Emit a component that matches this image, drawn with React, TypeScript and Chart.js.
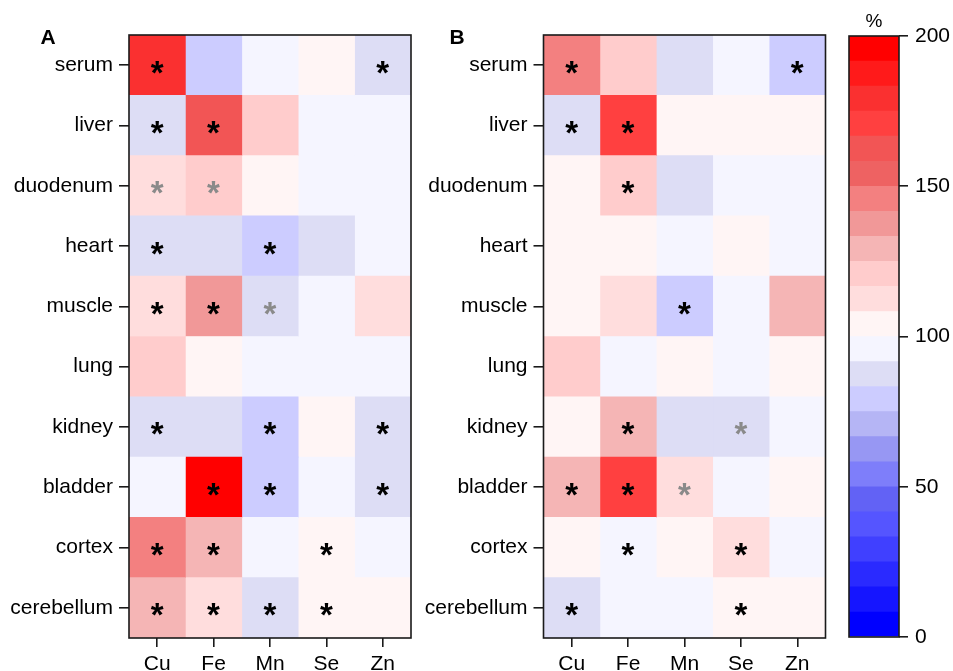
import React, { useEffect, useRef } from 'react';
import { Chart, registerables } from 'chart.js';

Chart.register(...registerables);

const TISSUES = ['serum', 'liver', 'duodenum', 'heart', 'muscle', 'lung', 'kidney', 'bladder', 'cortex', 'cerebellum'];
const ELEMENTS = ['Cu', 'Fe', 'Mn', 'Se', 'Zn'];

// Panel A: % of control, one array per element, in tissue order
const A_CU = [180, 86, 112, 87, 113, 120, 86, 96, 146, 128];
const A_FE = [78, 160, 120, 87, 138, 104, 87, 196, 129, 112];
const A_MN = [96, 121, 104, 79, 88, 97, 77, 78, 96, 87];
const A_SE = [103, 97, 97, 88, 96, 97, 103, 96, 104, 104];
const A_ZN = [86, 96, 96, 96, 113, 97, 87, 86, 96, 103];

// Panel B
const B_CU = [146, 87, 103, 104, 103, 120, 104, 128, 103, 86];
const B_FE = [121, 170, 121, 103, 112, 97, 129, 169, 96, 97];
const B_MN = [87, 104, 87, 97, 78, 103, 88, 113, 104, 96];
const B_SE = [96, 104, 96, 103, 96, 96, 87, 96, 113, 104];
const B_ZN = [78, 103, 96, 96, 128, 103, 96, 104, 96, 103];

// significance marks: 0 none, 1 black asterisk, 2 grey asterisk
const SIG_A_CU = [1, 1, 2, 1, 1, 0, 1, 0, 1, 1];
const SIG_A_FE = [0, 1, 2, 0, 1, 0, 0, 1, 1, 1];
const SIG_A_MN = [0, 0, 0, 1, 2, 0, 1, 1, 0, 1];
const SIG_A_SE = [0, 0, 0, 0, 0, 0, 0, 0, 1, 1];
const SIG_A_ZN = [1, 0, 0, 0, 0, 0, 1, 1, 0, 0];

const SIG_B_CU = [1, 1, 0, 0, 0, 0, 0, 1, 0, 1];
const SIG_B_FE = [0, 1, 1, 0, 0, 0, 1, 1, 1, 0];
const SIG_B_MN = [0, 0, 0, 0, 1, 0, 0, 2, 0, 0];
const SIG_B_SE = [0, 0, 0, 0, 0, 0, 2, 0, 1, 1];
const SIG_B_ZN = [1, 0, 0, 0, 0, 0, 0, 0, 0, 0];

// colour levels of the scale, from 0 up to 200 %
const COLOR_LEVELS = [
  '#0000FF', '#1515FF', '#2A2AFF', '#4040FF', '#5555FF', '#6262F5',
  '#7E7EFA', '#9797F3', '#B5B5F5', '#CCCCFF', '#DDDDF5', '#F5F5FF',
  '#FFF5F5', '#FFDDDD', '#FFCCCC', '#F5B5B5', '#F19898', '#F38080',
  '#EE6262', '#F25555', '#FF4040', '#FA3030', '#FF1A1A', '#FF0000',
];
const SCALE_MIN = 0;
const SCALE_MAX = 200;
const SCALE_STEP = 50;
const SCALE_TITLE = '%';

const FONT = '"Liberation Sans", Arial, Helvetica, sans-serif';
Chart.defaults.font.family = FONT;

const levelWidth = (SCALE_MAX - SCALE_MIN) / COLOR_LEVELS.length;
function colorFor(v: number): string {
  const i = Math.max(0, Math.min(COLOR_LEVELS.length - 1, Math.floor((v - SCALE_MIN) / levelWidth)));
  return COLOR_LEVELS[i];
}

const framePlugin = {
  id: 'frame',
  afterDatasetsDraw(chart: any) {
    const { ctx, chartArea: a } = chart;
    ctx.save();
    ctx.strokeStyle = '#1a1a1a';
    ctx.lineWidth = 1.6;
    ctx.strokeRect(a.left, a.top, a.right - a.left, a.bottom - a.top);
    ctx.restore();
  },
};

function makeLetterPlugin(letter: string, x: number, y: number) {
  return {
    id: 'letter',
    afterDraw(chart: any) {
      const ctx = chart.ctx;
      ctx.save();
      ctx.font = `bold 21px ${FONT}`;
      ctx.fillStyle = '#000';
      ctx.textAlign = 'center';
      ctx.textBaseline = 'middle';
      ctx.fillText(letter, x, y);
      ctx.restore();
    },
  };
}

function makeStarPlugin(sig: number[][]) {
  return {
    id: 'stars',
    afterDatasetsDraw(chart: any) {
      const ctx = chart.ctx;
      const xs = chart.scales.x;
      const ys = chart.scales.y;
      ctx.save();
      ctx.font = `bold 33px ${FONT}`;
      ctx.textAlign = 'left';
      ctx.textBaseline = 'alphabetic';
      const m = ctx.measureText('*');
      const asc = m.actualBoundingBoxAscent;
      const desc = m.actualBoundingBoxDescent;
      const bl = m.actualBoundingBoxLeft;
      const br = m.actualBoundingBoxRight;
      sig.forEach((col, c) => {
        col.forEach((s, r) => {
          if (!s) return;
          const cx = xs.getPixelForValue(c);
          const cy = ys.getPixelForValue(r) + 2;
          ctx.fillStyle = s === 1 ? '#000000' : '#8a8a8a';
          ctx.fillText('*', cx - (br - bl) / 2, cy + (asc - desc) / 2);
        });
      });
      ctx.restore();
    },
  };
}

function heatConfig(values: number[][], sig: number[][], plotLeft: number, padRight: number, letter: string, lx: number, ly: number) {
  const datasets = values.map((col, c) => ({
    label: ELEMENTS[c],
    data: col.map(() => [c - 0.5, c + 0.5]),
    backgroundColor: col.map(colorFor),
    borderWidth: 0,
    grouped: false,
    barPercentage: 1,
    categoryPercentage: 1,
  }));
  return {
    type: 'bar' as const,
    data: { labels: TISSUES, datasets },
    options: {
      indexAxis: 'y' as const,
      animation: false,
      responsive: false,
      devicePixelRatio: 1,
      events: [],
      layout: { padding: { left: 0, top: 35, right: padRight, bottom: 0 } },
      plugins: { legend: { display: false }, tooltip: { enabled: false } },
      scales: {
        x: {
          type: 'linear',
          position: 'bottom',
          min: -0.5,
          max: ELEMENTS.length - 0.5,
          afterBuildTicks: (s: any) => {
            s.ticks = ELEMENTS.map((_, i) => ({ value: i }));
          },
          afterFit: (s: any) => {
            s.height = 33;
          },
          ticks: {
            callback: (v: any) => ELEMENTS[Math.round(v)],
            autoSkip: false,
            maxRotation: 0,
            padding: 5,
            color: '#000',
            font: { size: 21 },
          },
          grid: { drawOnChartArea: false, drawTicks: true, tickLength: 9, color: '#1a1a1a', lineWidth: 1.6 },
          border: { display: false },
        },
        y: {
          type: 'category',
          position: 'left',
          offset: true,
          afterFit: (s: any) => {
            s.width = plotLeft;
          },
          ticks: { padding: 6, color: '#000', font: { size: 21 }, autoSkip: false },
          grid: { offset: false, drawOnChartArea: false, drawTicks: true, tickLength: 10, color: '#1a1a1a', lineWidth: 1.6 },
          border: { display: false },
        },
      },
    },
    plugins: [framePlugin, makeStarPlugin(sig), makeLetterPlugin(letter, lx, ly)],
  };
}

function colorbarConfig() {
  const datasets = COLOR_LEVELS.map((color, i) => ({
    label: String(i),
    data: [[SCALE_MIN + i * levelWidth, SCALE_MIN + (i + 1) * levelWidth]],
    backgroundColor: color,
    borderWidth: 0,
    grouped: false,
    barPercentage: 1,
    categoryPercentage: 1,
  }));
  const titlePlugin = {
    id: 'cbtitle',
    afterDraw(chart: any) {
      const { ctx, chartArea: a } = chart;
      ctx.save();
      ctx.font = `19px ${FONT}`;
      ctx.fillStyle = '#000';
      ctx.textAlign = 'center';
      ctx.textBaseline = 'middle';
      ctx.fillText(SCALE_TITLE, (a.left + a.right) / 2, 22);
      ctx.restore();
    },
  };
  return {
    type: 'bar' as const,
    data: { labels: [''], datasets },
    options: {
      animation: false,
      responsive: false,
      devicePixelRatio: 1,
      events: [],
      layout: { padding: { left: 9, top: 36, right: 0, bottom: 34 } },
      plugins: { legend: { display: false }, tooltip: { enabled: false } },
      scales: {
        x: { type: 'category', display: false, offset: true },
        y: {
          type: 'linear',
          position: 'right',
          min: SCALE_MIN,
          max: SCALE_MAX,
          afterFit: (s: any) => {
            s.width = 54;
          },
          ticks: { stepSize: SCALE_STEP, padding: 7, color: '#000', font: { size: 21 } },
          grid: { drawOnChartArea: false, drawTicks: true, tickLength: 9, color: '#1a1a1a', lineWidth: 1.6 },
          border: { display: false },
        },
      },
    },
    plugins: [framePlugin, titlePlugin],
  };
}

export default function App() {
  const aRef = useRef<HTMLCanvasElement>(null);
  const bRef = useRef<HTMLCanvasElement>(null);
  const cRef = useRef<HTMLCanvasElement>(null);

  useEffect(() => {
    const charts: Chart[] = [];
    charts.push(
      new Chart(
        aRef.current as HTMLCanvasElement,
        heatConfig(
          [A_CU, A_FE, A_MN, A_SE, A_ZN],
          [SIG_A_CU, SIG_A_FE, SIG_A_MN, SIG_A_SE, SIG_A_ZN],
          129,
          14,
          'A',
          48,
          38
        ) as any
      )
    );
    charts.push(
      new Chart(
        bRef.current as HTMLCanvasElement,
        heatConfig(
          [B_CU, B_FE, B_MN, B_SE, B_ZN],
          [SIG_B_CU, SIG_B_FE, SIG_B_MN, SIG_B_SE, SIG_B_ZN],
          128.5,
          14.5,
          'B',
          42,
          38
        ) as any
      )
    );
    charts.push(new Chart(cRef.current as HTMLCanvasElement, colorbarConfig() as any));
    return () => charts.forEach((c) => c.destroy());
  }, []);

  return (
    <div style={{ position: 'fixed', left: 0, top: 0, width: 953, height: 671, background: '#fff', overflow: 'hidden' }}>
      <canvas ref={aRef} width={425} height={671} style={{ position: 'absolute', left: 0, top: 0 }} />
      <canvas ref={bRef} width={425} height={671} style={{ position: 'absolute', left: 415, top: 0 }} />
      <canvas ref={cRef} width={113} height={671} style={{ position: 'absolute', left: 840, top: 0 }} />
    </div>
  );
}
